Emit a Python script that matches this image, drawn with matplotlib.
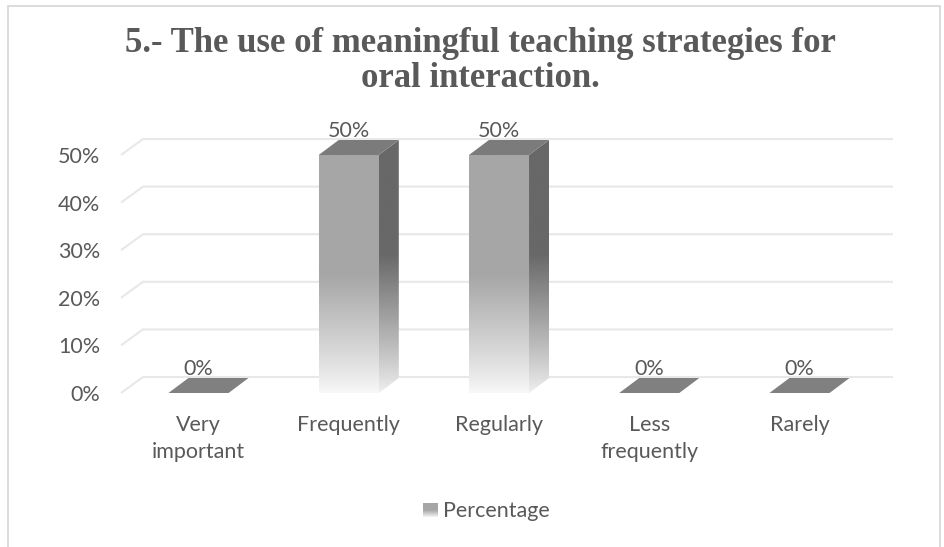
import numpy as np
import matplotlib
matplotlib.use("Agg")
import matplotlib.pyplot as plt
from matplotlib.patches import Polygon, Rectangle

# data
categories = ["Very\nimportant", "Frequently", "Regularly", "Less\nfrequently", "Rarely"]
values = [0, 50, 50, 0, 0]
value_labels = ["0%", "50%", "50%", "0%", "0%"]
yticks = [0, 10, 20, 30, 40, 50]
ytick_labels = ["0%", "10%", "20%", "30%", "40%", "50%"]
title = "5.- The use of meaningful teaching strategies for\noral interaction."
legend_label = "Percentage"

W, H = 945, 547
fig = plt.figure(figsize=(W / 100, H / 100), dpi=100)
plt.rcParams["font.family"] = ["Lato", "DejaVu Sans"]
txt = "#595959"
fs = 15.5

# outer border of the chart area
fig.patches.append(Rectangle((8 / W, -0.05), (940 - 8) / W, (1 - 6 / H) + 0.05,
                             transform=fig.transFigure, fill=False,
                             edgecolor="#d9d9d9", linewidth=1.3))

# plot area in pixels
left, right, bottom, top = 121, 893, 393, 139
ax = fig.add_axes([left / W, (H - bottom) / H, (right - left) / W, (bottom - top) / H])
px_cat = 150.25
px_pct = 4.76
x0 = (left - 198.5) / px_cat
x1 = x0 + (right - left) / px_cat

# floor / back wall offsets
dxw, dyw = 22 / px_cat, 16 / px_pct
dxb, dyb = 20 / px_cat, 15 / px_pct
hw = 0.2

for v in yticks:
    ax.plot([x0, x0 + dxw, x1], [v, v + dyw, v + dyw], color="#e8e8e8", lw=1.5,
            solid_capstyle="butt", zorder=1, clip_on=False)


def grad(c_top, c_bot, n=200, solid=0.5):
    t = np.linspace(0, 1, n)  # 0 bottom, 1 top
    f = np.clip(t / (1 - solid), 0, 1) ** 0.9
    c_top = np.array(c_top) / 255
    c_bot = np.array(c_bot) / 255
    img = c_bot[None, :] * (1 - f[:, None]) + c_top[None, :] * f[:, None]
    return img[:, None, :]


front_img = grad((166, 166, 166), (248, 248, 248))
side_img = grad((104, 104, 104), (240, 240, 240), solid=0.45)

for i, v in enumerate(values):
    if v > 0:
        ax.imshow(front_img, extent=(i - hw, i + hw, 0, v), origin="lower",
                  aspect="auto", interpolation="bicubic", zorder=3)
        side = Polygon([(i + hw, 0), (i + hw + dxb, dyb), (i + hw + dxb, v + dyb), (i + hw, v)],
                       closed=True, facecolor="none", edgecolor="none")
        ax.add_patch(side)
        im2 = ax.imshow(side_img, extent=(i + hw, i + hw + dxb, 0, v + dyb), origin="lower",
                        aspect="auto", interpolation="bicubic", zorder=3)
        im2.set_clip_path(side)
        topc = "#7b7b7b"
    else:
        topc = "#808080"
    ax.add_patch(Polygon([(i - hw, v), (i + hw, v), (i + hw + dxb, v + dyb), (i - hw + dxb, v + dyb)],
                         closed=True, facecolor=topc, edgecolor="none", zorder=4))
    ax.annotate(value_labels[i], (i, v + dyb), xytext=(0, -1), textcoords="offset points",
                ha="center", va="bottom", fontsize=fs, color=txt, zorder=5)

ax.set_xlim(x0, x1)
ax.set_ylim(0, (bottom - top) / px_pct)
ax.set_yticks(yticks)
ax.set_yticklabels(ytick_labels, fontsize=fs, color=txt)
ax.set_xticks(range(len(categories)))
ax.set_xticklabels(categories, fontsize=fs, color=txt, linespacing=1.45)
ax.tick_params(axis="y", length=0, pad=15)
ax.tick_params(axis="x", length=0, pad=16)
for s in ax.spines.values():
    s.set_visible(False)
ax.set_facecolor("none")

# title
fig.text(480 / W, 1 - 61 / H, title, ha="center", va="center", fontsize=25,
         fontweight="bold", family="Liberation Serif", color=txt, linespacing=1.08)

# legend
lax = fig.add_axes([423 / W, (H - 517) / H, 15 / W, 14 / H])
lax.imshow(grad((166, 166, 166), (248, 248, 248)), aspect="auto", origin="lower",
           extent=(0, 1, 0, 1))
lax.axis("off")
fig.text(443 / W, 1 - 511 / H, legend_label, ha="left", va="center", fontsize=fs, color=txt)

fig.savefig("out.png", dpi=100, facecolor="white")
